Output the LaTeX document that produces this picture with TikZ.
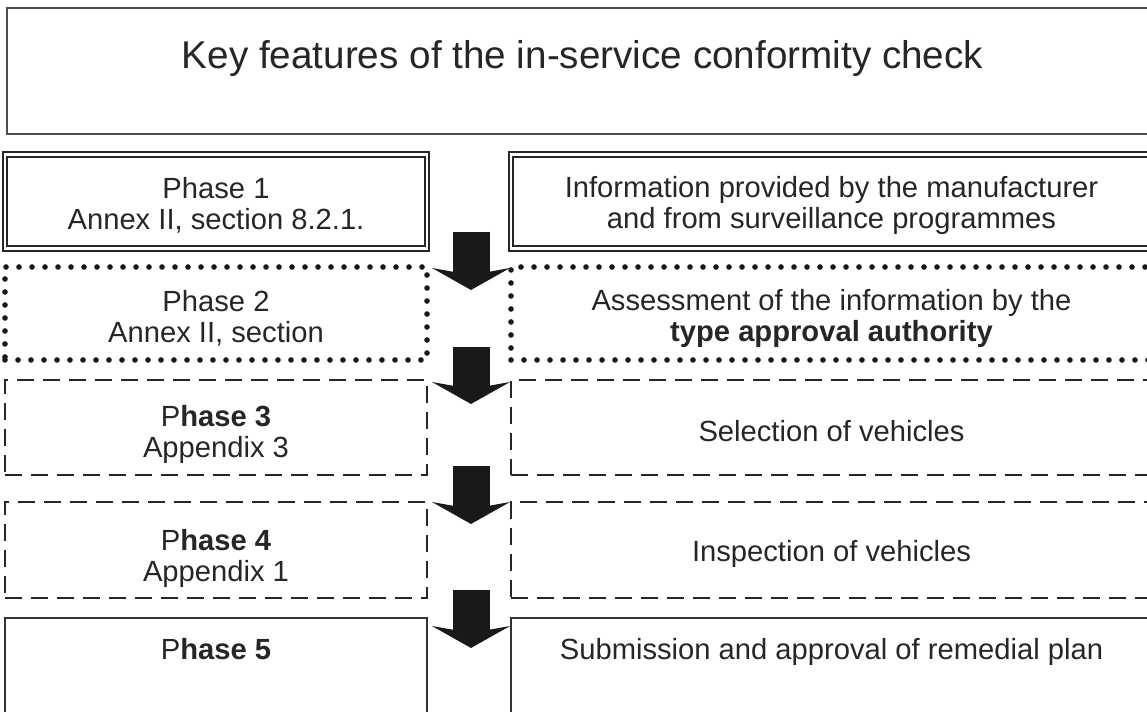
\documentclass[tikz,border=0pt]{standalone}
\usepackage{fontspec}
\setmainfont{Liberation Sans}
\usepackage{tikz}
\usetikzlibrary{arrows.meta}
\tikzset{
title box/.style = {rectangle, draw = black!70, line width = 1.1pt, minimum width = 23.02cm, minimum height = 2.52cm, text height = 0.56cm, text depth = 0.66cm, text = black!85, font = \fontsize{22pt}{26pt}\selectfont},
phase box/.style = {rectangle, align = center, minimum width = 8.44cm, inner sep = 0pt, text = black!85, font = \fontsize{16.6pt}{17.6pt}\selectfont},
info box/.style = {phase box, minimum width = 12.82cm},
double line/.style = {draw = black!85, line width = 1.2pt, double = white, double distance = 1.4pt},
dotted line/.style = {draw = black!90, line width = 3.2pt, line cap = round, dash pattern = on 0pt off 0.26cm},
dashed line/.style = {draw = black!85, line width = 1.3pt, dash pattern = on 0.34cm off 0.18cm},
solid line/.style = {draw = black!80, line width = 1.1pt},
top text/.style = {text height = 0.42cm, text depth = 0.7cm},
phase arrow/.style = {draw = black!90, line width = 0.74cm, -{Stealth[length = 0.44cm, width = 1.56cm, inset = 0.14cm, line width = 0pt]}},
}

\begin{document}
\begin{tikzpicture}
    \useasboundingbox (0, 0) rectangle (22.94, -14.24);
    \clip (0, 0) rectangle (22.94, -14.24);
    \node[title box] (title) at (11.65, -1.42) {Key features of the in-service conformity check};
    % phases (left) and what happens in them (right)
    \node[phase box, double line, minimum height = 1.88cm] (phase1) at (4.32, -4.03) {\rule{0pt}{0.57cm}Phase 1\\Annex II, section 8.2.1.};
    \node[info box, double line, minimum height = 1.88cm] (info1) at (16.63, -4.03) {\rule{0pt}{0.57cm}Information provided by the manufacturer\\and from surveillance programmes};
    \node[phase box, dotted line, minimum height = 1.86cm] (phase2) at (4.32, -6.27) {\rule{0pt}{0.63cm}Phase 2\\Annex II, section};
    \node[info box, dotted line, minimum height = 1.86cm] (info2) at (16.63, -6.27) {\rule{0pt}{0.63cm}Assessment of the information by the\\\textbf{type approval authority}};
    \node[phase box, dashed line, minimum height = 1.9cm] (phase3) at (4.32, -8.55) {\rule{0pt}{0.71cm}P\textbf{hase 3}\\Appendix 3};
    \node[info box, dashed line, minimum height = 1.9cm] (info3) at (16.63, -8.55) {\rule{0pt}{0.55cm}Selection of vehicles};
    \node[phase box, dashed line, minimum height = 1.92cm] (phase4) at (4.32, -11.0) {\rule{0pt}{0.75cm}P\textbf{hase 4}\\Appendix 1};
    \node[info box, dashed line, minimum height = 1.92cm] (info4) at (16.63, -11.0) {\rule{0pt}{0.59cm}Inspection of vehicles};
    \node[phase box, solid line, top text, minimum height = 1.96cm] (phase5) at (4.32, -13.34) {P\textbf{hase 5}};
    \node[info box, solid line, top text, minimum height = 1.96cm] (info5) at (16.63, -13.34) {Submission and approval of remedial plan};
    % arrows between the phases
    \coordinate (a1) at (9.42, -4.64);
    \coordinate (b1) at (9.42, -5.8);
    \coordinate (a2) at (9.42, -6.94);
    \coordinate (b2) at (9.42, -8.08);
    \coordinate (a3) at (9.42, -9.32);
    \coordinate (b3) at (9.42, -10.48);
    \coordinate (a4) at (9.42, -11.8);
    \coordinate (b4) at (9.42, -12.96);
    \draw[phase arrow] (a1) -- (b1);
    \draw[phase arrow] (a2) -- (b2);
    \draw[phase arrow] (a3) -- (b3);
    \draw[phase arrow] (a4) -- (b4);
\end{tikzpicture}
\end{document}
